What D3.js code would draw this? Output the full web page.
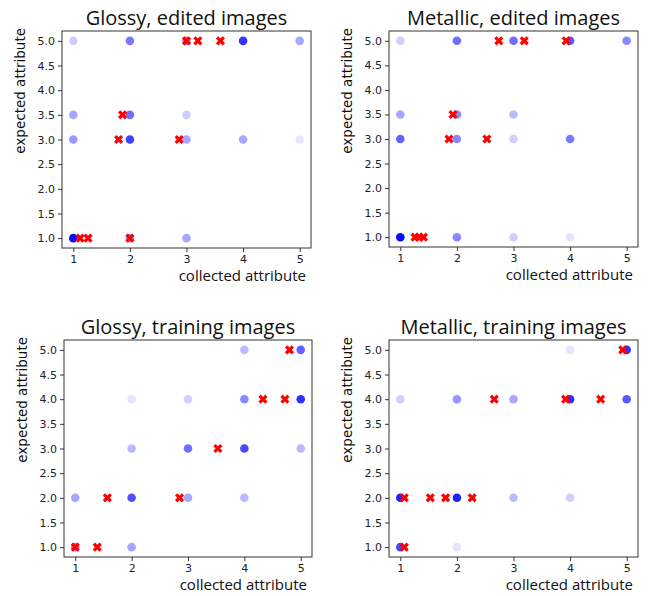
<!DOCTYPE html>
<html>
<head>
<meta charset="utf-8">
<script src="https://cdn.jsdelivr.net/npm/d3@7"></script>
<style>
  body { margin: 0; background: #fff; }
  .tick text { font-family: "DejaVu Sans", sans-serif; font-size: 11px; fill: #222; }
  .tick line { stroke: #333; }
  .title { font-family: "Open Sans", "Noto Sans", sans-serif; font-size: 20px; fill: #111; }
  .xlab { font-family: "Open Sans", "Noto Sans", sans-serif; font-size: 15px; fill: #111; }
  .ylab { font-family: "DejaVu Sans", sans-serif; font-size: 13.5px; fill: #111; }
</style>
</head>
<body>
<div id="svgcontainer"></div>
<script>
// [collected, expected, number of overlapping samples]
var glossyEditedPts = [
    [1, 5, 2], [2, 5, 7], [3, 5, 6], [4, 5, 15], [5, 5, 4],
    [1, 3.5, 4], [2, 3.5, 8], [3, 3.5, 2],
    [1, 3, 5], [2, 3, 13], [3, 3, 4], [4, 3, 4], [5, 3, 1],
    [1, 1, 30], [2, 1, 5], [3, 1, 4]
];
// red X: mean collected value per expected value
var glossyEditedMeans = [
    [3.0, 5], [3.2, 5], [3.6, 5],
    [1.87, 3.5],
    [1.8, 3], [2.87, 3],
    [1.12, 1], [1.26, 1], [2.0, 1]
];

var metallicEditedPts = [
    [1, 5, 2], [2, 5, 8], [3, 5, 8], [4, 5, 10], [5, 5, 6],
    [1, 3.5, 4], [2, 3.5, 6], [3, 3.5, 3],
    [1, 3, 9], [2, 3, 6], [3, 3, 2], [4, 3, 7],
    [1, 1, 30], [2, 1, 6], [3, 1, 2], [4, 1, 1]
];
var metallicEditedMeans = [
    [2.74, 5], [3.19, 5], [3.93, 5],
    [1.93, 3.5],
    [1.86, 3], [2.53, 3],
    [1.26, 1], [1.33, 1], [1.41, 1]
];

var glossyTrainPts = [
    [4, 5, 3], [5, 5, 9],
    [2, 4, 1], [3, 4, 2], [4, 4, 6], [5, 4, 16],
    [2, 3, 3], [3, 3, 8], [4, 3, 12], [5, 3, 3],
    [1, 2, 4], [2, 2, 11], [3, 2, 4], [4, 2, 3],
    [1, 1, 6], [2, 1, 4]
];
var glossyTrainMeans = [
    [4.8, 5],
    [4.33, 4], [4.72, 4],
    [3.53, 3],
    [1.57, 2], [2.85, 2],
    [1.0, 1], [1.39, 1]
];

var metallicTrainPts = [
    [4, 5, 1], [5, 5, 16],
    [1, 4, 2], [2, 4, 5], [3, 4, 4], [4, 4, 16], [5, 4, 10],
    [1, 2, 20], [2, 2, 20], [3, 2, 3], [4, 2, 2],
    [1, 1, 12], [2, 1, 1]
];
var metallicTrainMeans = [
    [4.93, 5],
    [2.66, 4], [3.92, 4], [4.54, 4],
    [1.07, 2], [1.53, 2], [1.8, 2], [2.27, 2],
    [1.07, 1]
];

var titles = ["Glossy, edited images", "Metallic, edited images",
              "Glossy, training images", "Metallic, training images"];
var xTicks = [1, 2, 3, 4, 5];
var yTicks = [1, 1.5, 2, 2.5, 3, 3.5, 4, 4.5, 5];

var alpha = 0.1;
var width = 649, height = 596;

var svg = d3.select("#svgcontainer").append("svg")
    .attr("width", width)
    .attr("height", height);

var panels = [
    { left: 62, right: 311, top: 31, bottom: 248, pts: glossyEditedPts, means: glossyEditedMeans },
    { left: 389, right: 638, top: 31, bottom: 247, pts: metallicEditedPts, means: metallicEditedMeans },
    { left: 64, right: 312, top: 340, bottom: 557, pts: glossyTrainPts, means: glossyTrainMeans },
    { left: 389, right: 638, top: 340, bottom: 557, pts: metallicTrainPts, means: metallicTrainMeans }
];

var xSymbol = d3.symbol().type(d3.symbolCross).size(52);

function drawPanel(p, i) {
    var x = d3.scaleLinear().domain([0.8, 5.2]).range([p.left, p.right]);
    var y = d3.scaleLinear().domain([0.8, 5.2]).range([p.bottom, p.top]);
    var g = svg.append("g");

    g.append("g")
        .attr("transform", "translate(0," + p.bottom + ")")
        .call(d3.axisBottom(x).tickValues(xTicks).tickSize(4).tickPadding(3).tickFormat(d3.format("d")))
        .call(function (a) { a.select(".domain").remove(); });

    g.append("g")
        .attr("transform", "translate(" + p.left + ",0)")
        .call(d3.axisLeft(y).tickValues(yTicks).tickSize(4).tickPadding(3).tickFormat(d3.format(".1f")))
        .call(function (a) { a.select(".domain").remove(); });

    g.selectAll("circle")
        .data(p.pts).enter().append("circle")
        .attr("cx", function (d) { return x(d[0]); })
        .attr("cy", function (d) { return y(d[1]); })
        .attr("r", 4.3)
        .attr("fill", "#0000ff")
        .attr("fill-opacity", function (d) { return 1 - Math.pow(1 - alpha, d[2]); });

    g.selectAll("path.mean")
        .data(p.means).enter().append("path")
        .attr("class", "mean")
        .attr("d", xSymbol)
        .attr("fill", "#ff0000")
        .attr("transform", function (d) {
            return "translate(" + x(d[0]) + "," + y(d[1]) + ") rotate(45)";
        });

    g.append("rect")
        .attr("x", p.left).attr("y", p.top)
        .attr("width", p.right - p.left).attr("height", p.bottom - p.top)
        .attr("fill", "none").attr("stroke", "#333").attr("stroke-width", 1);

    g.append("text").attr("class", "title")
        .attr("x", (p.left + p.right) / 2).attr("y", p.top - 6)
        .attr("text-anchor", "middle")
        .text(titles[i]);

    g.append("text").attr("class", "xlab")
        .attr("x", p.right - 5).attr("y", p.bottom + 33)
        .attr("text-anchor", "end")
        .text("collected attribute");

    g.append("text").attr("class", "ylab")
        .attr("transform", "translate(" + (p.left - 37) + "," + (p.top - 3) + ") rotate(-90)")
        .attr("text-anchor", "end")
        .text("expected attribute");
}

panels.forEach(drawPanel);
</script>
</body>
</html>
